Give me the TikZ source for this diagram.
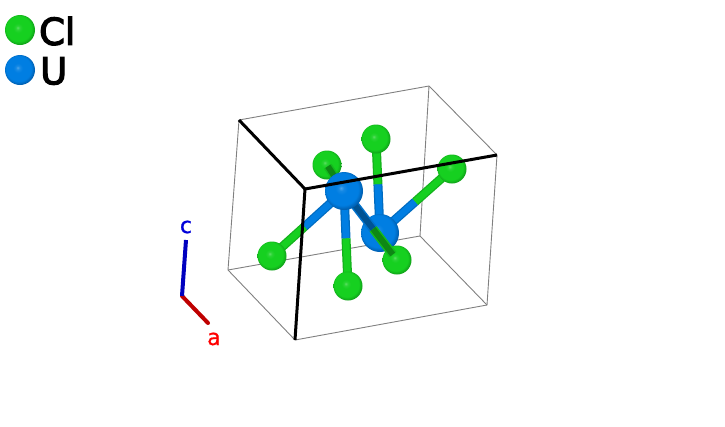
\documentclass[tikz,border=0pt]{standalone}
\usepackage{fontspec}
\setmainfont{DejaVu Sans}
\newfontfamily\keyfont[FakeBold=3.5]{DejaVu Sans}
\newfontfamily\axisfont[FakeBold=0.8]{DejaVu Sans}
\usetikzlibrary{calc}
\definecolor{clgreen}{RGB}{22,208,32}
\definecolor{cldark}{RGB}{10,120,18}
\definecolor{ulblue}{RGB}{0,126,226}
\definecolor{uldark}{RGB}{0,66,130}
\pgfdeclareradialshading{clball}{\pgfpoint{-4bp}{4bp}}{color(0bp)=(clgreen!70!white);color(3.5bp)=(clgreen!92!white);color(8bp)=(clgreen);color(21bp)=(clgreen);color(31bp)=(cldark);color(50bp)=(cldark)}
\pgfdeclareradialshading{uball}{\pgfpoint{-4bp}{4bp}}{color(0bp)=(ulblue!70!white);color(3.5bp)=(ulblue!92!white);color(8bp)=(ulblue);color(21bp)=(ulblue);color(31bp)=(uldark);color(50bp)=(uldark)}
\tikzset{
  clatom/.style={circle,inner sep=0pt,minimum size=29pt,shading=clball},
  uatom/.style={circle,inner sep=0pt,minimum size=38pt,shading=uball},
  keyatom/.style={circle,inner sep=0pt,minimum size=30pt},
  clbond/.style={draw=clgreen!85!black,line width=9pt,postaction={draw=clgreen,line width=6.5pt}},
  ubond/.style={draw=ulblue!85!black,line width=9pt,postaction={draw=ulblue,line width=6.5pt}},
  clfront/.style={draw=clgreen!90!black,line width=9pt,postaction={draw=clgreen!65!black,line width=6pt}},
  ufront/.style={draw=ulblue!90!black,line width=9pt,postaction={draw=ulblue!65!black,line width=6pt}},
  cell/.style={draw=black!50,line width=0.9pt},
  axis/.style={draw=black,line width=3pt},
  keytext/.style={font=\keyfont\fontsize{37}{37}\selectfont,anchor=west,inner sep=0pt},
  axistext/.style={font=\axisfont\fontsize{22}{22}\selectfont,inner sep=0pt}
}
\begin{document}
\begin{tikzpicture}[x=1pt,y=-1pt]
  \useasboundingbox (0,0) rectangle (725,426);
  % corners of the cell
  \coordinate (o) at (305,189);
  \coordinate (ca) at (239,120);
  \coordinate (cb) at (497,155);
  \coordinate (cc) at (295,340);
  \coordinate (cab) at (429,86);
  \coordinate (cac) at (228,270);
  \coordinate (cbc) at (487,305);
  \coordinate (cabc) at (420,236);
  % atom centres
  \coordinate (u1) at (344,191);
  \coordinate (u2) at (380,233);
  \coordinate (cl1) at (327,165);
  \coordinate (cl2) at (376,139);
  \coordinate (cl3) at (452,169);
  \coordinate (cl4) at (272,256);
  \coordinate (cl5) at (348,286);
  \coordinate (cl6) at (397,260);
  % thin cell edges
  \draw[cell] (ca) -- (cab) -- (cb) -- (cbc) -- (cc) -- (cac) -- cycle;
  \draw[cell] (cab) -- (cabc) -- (cac);
  \draw[cell] (cabc) -- (cbc);
  % bonds behind the atoms
  \draw[ubond] (u2) -- ($(u2)!0.52!(cl2)$);
  \draw[clbond] ($(u2)!0.52!(cl2)$) -- (cl2);
  \draw[ubond] (u2) -- ($(u2)!0.49!(cl3)$);
  \draw[clbond] ($(u2)!0.49!(cl3)$) -- (cl3);
  \node[clatom] (clball2) at (cl2) {};
  \node[clatom] (clball3) at (cl3) {};
  \node[clatom] (clball1) at (cl1) {};
  \draw[clfront] ($(u1)!0.95!(cl1)$) -- (u1);
  \node[uatom] (uball2) at (u2) {};
  \node[clatom] (clball6) at (cl6) {};
  \draw[ufront] (u1) -- ($(u1)!0.55!(cl6)$);
  \draw[clfront] ($(u1)!0.55!(cl6)$) -- ($(u1)!0.92!(cl6)$);
  \draw[ubond] (u1) -- ($(u1)!0.55!(cl4)$);
  \draw[clbond] ($(u1)!0.55!(cl4)$) -- (cl4);
  \draw[ubond] (u1) -- ($(u1)!0.5!(cl5)$);
  \draw[clbond] ($(u1)!0.5!(cl5)$) -- (cl5);
  \node[clatom] (clball4) at (cl4) {};
  \node[clatom] (clball5) at (cl5) {};
  \node[uatom] (uball1) at (u1) {};
  % heavy cell edges
  \draw[axis] (o) -- (ca);
  \draw[axis] (o) -- (cb);
  \draw[axis] (o) -- (cc);
  % legend
  \node[keyatom,shading=clball] (keycl) at (20,30) {};
  \node[keyatom,shading=uball] (keyu) at (20,70) {};
  \node[keytext] (labelcl) at (39,31) {Cl};
  \node[keytext] (labelu) at (40,71) {U};
  % axes
  \coordinate (axo) at (182,296);
  \node[axistext,text=blue!85!black] (labelc) at (186,227) {c};
  \node[axistext,text=red] (labela) at (214,339) {a};
  \coordinate (axc) at (186,240);
  \coordinate (axa) at (208,323);
  \draw[line width=4pt,draw=red!75!black,line cap=round] (axo) -- (axa);
  \draw[line width=4pt,draw=blue!75!black] (axo) -- (axc);
\end{tikzpicture}
\end{document}
